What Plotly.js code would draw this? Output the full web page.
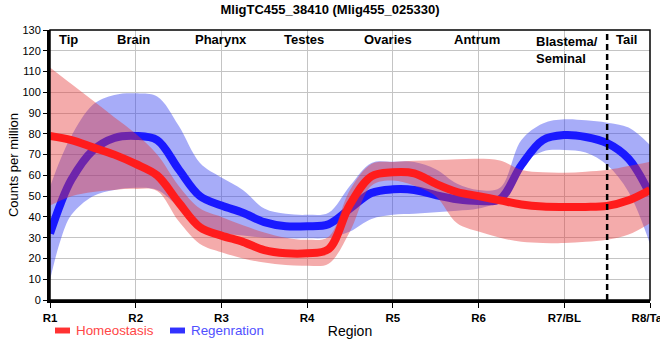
<!DOCTYPE html>
<html>
<head>
<meta charset="utf-8">
<script src="https://cdn.plot.ly/plotly-3.0.1.min.js"></script>
<style>html,body{margin:0;padding:0;background:#fff;}#chart{width:660px;height:360px;}</style>
</head>
<body>
<div id="chart"></div>
<script>
// Tick labels (regions) and region names
const tickVals = [1, 2, 3, 4, 5, 6, 7, 8];
const tickLabels = ["R1", "R2", "R3", "R4", "R5", "R6", "R7/BL", "R8/Tail"];
const regionNames = ["Tip", "Brain", "Pharynx", "Testes", "Ovaries", "Antrum", "Blastema/<br>Seminal", "Tail"];
const regionPos = [1.22, 1.97, 2.99, 3.96, 4.94, 5.98, 6.65, 7.73];

// Sample positions along the body axis
const xs = [1, 1.25, 1.5, 1.75, 2, 2.25, 2.5, 2.75, 3, 3.25, 3.5, 3.75, 4, 4.25, 4.5, 4.75,
            5, 5.25, 5.5, 5.75, 6, 6.25, 6.5, 6.75, 7, 7.25, 7.5, 7.75, 8];

// Homeostasis (red): mean and band
const homMean = [79, 77, 73.5, 70, 65.5, 60, 47, 35, 31, 28, 24, 22.5, 22.5, 24.5, 46, 59.5,
                 61.5, 61, 56, 52, 50, 48, 46, 45, 44.8, 44.8, 45.3, 48, 53];
const homUp   = [112, 104, 96, 88, 80, 70, 55, 44, 40, 36, 32.5, 30, 29, 30.5, 53, 65.5,
                 66.5, 67, 67.4, 67.8, 68, 67.2, 62.6, 61.5, 61.3, 61.8, 62.6, 64.5, 66.6];
const homLo   = [45.5, 50, 52, 53, 53.5, 52.5, 38, 27, 23, 20, 18, 16.8, 16.5, 17.5, 33, 55,
                 57.5, 55, 50, 37, 33, 30, 28, 27.5, 27.4, 28, 29, 31.5, 37];

// Regeneration (blue): mean and band
const regX    = [1, 1.125, 1.25, 1.5, 1.75, 2, 2.25, 2.5, 2.75, 3, 3.25, 3.5, 3.75, 4, 4.25, 4.5, 4.75,
                 5, 5.25, 5.5, 5.75, 6, 6.25, 6.5, 6.75, 7, 7.25, 7.5, 7.75, 8];
const regMean = [32, 46.5, 58, 72, 78, 79, 77, 63, 50, 45.5, 42, 37.5, 35.5, 35.5, 36.5, 44, 51.5,
                 53.3, 53, 50.5, 48.5, 47.7, 48.6, 65, 77, 79.4, 78.5, 75.5, 68, 51];
const regUp   = [54.5, 68, 79, 94, 98.7, 99.5, 98, 84, 66, 59, 53, 44, 41.5, 41, 42, 55, 66,
                 66.6, 66.5, 63, 56, 53, 54, 77, 85, 87, 86.5, 85.4, 83, 74.6];
const regLo   = [9.6, 29, 41, 50, 53, 54, 53, 45, 37, 32.5, 31, 30, 29.7, 29.7, 30, 33, 39,
                 41, 41.5, 42.2, 43, 44, 48, 65, 71.5, 72.2, 71, 65, 52, 27];

const redBand = "rgba(228,55,55,0.42)";
const blueBand = "rgba(60,70,240,0.45)";
const redLine = "rgb(255,28,28)";
const blueLine = "rgb(25,25,255)";

function band(x, y, color, fill) {
  return {x: x, y: y, type: "scatter", mode: "lines", fill: fill, fillcolor: color,
    line: {width: 0, shape: "spline", smoothing: 1, color: color}, hoverinfo: "skip", showlegend: false};
}
function meanLine(x, y, color) {
  return {x: x, y: y, type: "scatter", mode: "lines",
    line: {width: 8, shape: "spline", smoothing: 1, color: color}, showlegend: false};
}

const data = [
  band(regX, regUp, blueBand, "none"),
  band(regX, regLo, blueBand, "tonexty"),
  meanLine(regX, regMean, blueLine),
  band(xs, homUp, redBand, "none"),
  band(xs, homLo, redBand, "tonexty"),
  meanLine(xs, homMean, redLine)
];

const font = "Liberation Sans, Arial, sans-serif";
const annotations = regionNames.map((t, i) => ({
  x: regionPos[i], y: 125.2, xref: "x", yref: "y", text: "<b>" + t + "</b>",
  showarrow: false, xanchor: i === 6 ? "left" : "center", yanchor: i === 6 ? "top" : "middle",
  align: "left", yshift: i === 6 ? 8 : 0,
  font: {family: font, size: 13, color: "#000"}
}));
annotations.push(
  {x: 0.04, y: -0.113, xref: "paper", yref: "paper", text: "Homeostasis", showarrow: false,
   xanchor: "left", yanchor: "middle", font: {family: font, size: 13.4, color: "rgb(255,70,70)"}},
  {x: 0.2317, y: -0.113, xref: "paper", yref: "paper", text: "Regenration", showarrow: false,
   xanchor: "left", yanchor: "middle", font: {family: font, size: 13.4, color: "rgb(80,80,255)"}}
);

const layout = {
  width: 660, height: 360,
  margin: {l: 50, r: 10, t: 30, b: 60},
  paper_bgcolor: "#fff", plot_bgcolor: "#fff",
  showlegend: false,
  title: {text: "<b>MligTC455_38410 (Mlig455_025330)</b>", x: 0.5, xanchor: "center", y: 0.975, yanchor: "middle",
    font: {family: font, size: 13, color: "#000"}},
  xaxis: {
    range: [1, 8], tickvals: tickVals, ticktext: tickLabels.map(t => "<b>" + t + "</b>"),
    tickfont: {family: font, size: 11.5, color: "#000"}, ticklabeloverflow: "allow",
    showgrid: true, gridcolor: "#c4c4c4", gridwidth: 1,
    showline: true, linecolor: "#000", linewidth: 3,
    ticks: "outside", ticklen: 5, tickwidth: 1, tickcolor: "#000",
    zeroline: false, fixedrange: true,
    title: {text: "Region", font: {family: font, size: 14, color: "#000"}, standoff: 4}
  },
  yaxis: {
    range: [0, 130], dtick: 10, tick0: 0,
    tickfont: {family: font, size: 11, color: "#000"},
    showgrid: true, gridcolor: "#c4c4c4", gridwidth: 1,
    showline: true, linecolor: "#000", linewidth: 3,
    ticks: "outside", ticklen: 4, tickwidth: 1, tickcolor: "#000",
    zeroline: false, fixedrange: true,
    title: {text: "Counts per million", font: {family: font, size: 13, color: "#000"}, standoff: 1}
  },
  shapes: [
    {type: "rect", xref: "paper", yref: "paper", x0: 0, x1: 1, y0: 0, y1: 1, line: {color: "#000", width: 1.5}, layer: "above"},
    {type: "line", xref: "x", yref: "y", x0: 7.5, x1: 7.5, y0: 0, y1: 130, line: {color: "#000", width: 2.5, dash: "6px,4px"}, layer: "above"},
    {type: "rect", xref: "paper", yref: "paper", x0: 0.0083, x1: 0.0333, y0: -0.124, y1: -0.102, fillcolor: "rgb(255,50,50)", line: {width: 0}},
    {type: "rect", xref: "paper", yref: "paper", x0: 0.2, x1: 0.225, y0: -0.124, y1: -0.102, fillcolor: "rgb(50,50,255)", line: {width: 0}}
  ],
  annotations: annotations
};

Plotly.newPlot("chart", data, layout, {displayModeBar: false, staticPlot: true});
</script>
</body>
</html>
